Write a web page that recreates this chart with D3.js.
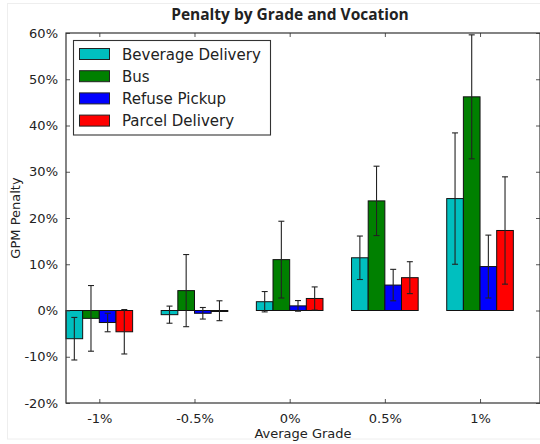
<!DOCTYPE html>
<html>
<head>
<meta charset="utf-8">
<script src="https://cdn.jsdelivr.net/npm/d3@7"></script>
<style>
  body { margin: 0; background: #fff; }
  text { font-family: "DejaVu Sans", sans-serif; fill: #222; }
</style>
</head>
<body>
<script>
// data (percent)
var grades = ["-1%", "-0.5%", "0%", "0.5%", "1%"];
var vocations = ["Beverage Delivery", "Bus", "Refuse Pickup", "Parcel Delivery"];
var colors = ["#00bfbf", "#008000", "#0000ff", "#ff0000"];

var beverage = [-6.1, -0.9, 1.9, 11.4, 24.2];
var bus      = [-1.7, 4.3, 11.0, 23.7, 46.2];
var refuse   = [-2.6, -0.6, 1.0, 5.5, 9.5];
var parcel   = [-4.6, -0.05, 2.6, 7.1, 17.3];

var beverageErr = [4.6, 1.85, 2.2, 4.7, 14.2];
var busErr      = [7.1, 7.8, 8.3, 7.5, 13.4];
var refuseErr   = [2.0, 1.25, 1.15, 3.4, 6.8];
var parcelErr   = [4.8, 2.15, 2.5, 3.45, 11.6];

var yTicks = [-20, -10, 0, 10, 20, 30, 40, 50, 60];

var values = [beverage, bus, refuse, parcel];
var errors = [beverageErr, busErr, refuseErr, parcelErr];

var width = 540, height = 444;
var plotLeft = 66, plotRight = 540, plotTop = 33, plotBottom = 403;

var svg = d3.select("body").append("svg")
    .attr("width", width)
    .attr("height", height);

// faint figure frame
svg.append("rect")
    .attr("x", 7.5).attr("y", 3.5)
    .attr("width", 540).attr("height", 435.5)
    .attr("fill", "none")
    .attr("stroke", "#eeeeee");

var x = d3.scaleLinear().domain([-0.35, 4.63]).range([plotLeft, plotRight]);
var y = d3.scaleLinear().domain([-20, 60]).range([plotBottom, plotTop]);
var barW = 0.175;

// bars
var g = svg.append("g");
vocations.forEach(function (v, s) {
    var rows = grades.map(function (gr, i) {
        return { i: i, v: values[s][i], e: errors[s][i] };
    });
    g.selectAll(".bar" + s)
        .data(rows)
        .enter()
        .append("rect")
        .attr("x", d => x(d.i - 2 * barW + s * barW))
        .attr("y", d => y(Math.max(0, d.v)))
        .attr("width", x(barW) - x(0))
        .attr("height", d => Math.max(1, Math.abs(y(d.v) - y(0))))
        .attr("fill", colors[s])
        .attr("stroke", "#111")
        .attr("stroke-width", 1);
});

// error bars
vocations.forEach(function (v, s) {
    grades.forEach(function (gr, i) {
        var cx = x(i - 2 * barW + s * barW + barW / 2);
        var lo = y(values[s][i] - errors[s][i]), hi = y(values[s][i] + errors[s][i]);
        g.append("line").attr("x1", cx).attr("x2", cx).attr("y1", lo).attr("y2", hi)
            .attr("stroke", "#222").attr("stroke-width", 1.1);
        [lo, hi].forEach(function (yy) {
            g.append("line").attr("x1", cx - 3).attr("x2", cx + 3).attr("y1", yy).attr("y2", yy)
                .attr("stroke", "#222").attr("stroke-width", 1.1);
        });
    });
});

// axes (matplotlib classic: ticks inside, on all sides)
var xTickVals = grades.map((d, i) => i);
svg.append("g")
    .attr("transform", "translate(0," + plotBottom + ")")
    .call(d3.axisBottom(x).tickValues(xTickVals).tickFormat(i => grades[i]).tickSizeInner(-4).tickSizeOuter(0).tickPadding(11))
    .call(a => a.select(".domain").remove());
svg.append("g")
    .attr("transform", "translate(0," + plotTop + ")")
    .call(d3.axisTop(x).tickValues(xTickVals).tickFormat("").tickSizeInner(-4).tickSizeOuter(0))
    .call(a => a.select(".domain").remove());
svg.append("g")
    .attr("transform", "translate(" + plotLeft + ",0)")
    .call(d3.axisLeft(y).tickValues(yTicks).tickFormat(d => d + "%").tickSizeInner(-4).tickSizeOuter(0).tickPadding(8))
    .call(a => a.select(".domain").remove());
svg.append("g")
    .attr("transform", "translate(" + plotRight + ",0)")
    .call(d3.axisRight(y).tickValues(yTicks).tickFormat("").tickSizeInner(-4).tickSizeOuter(0))
    .call(a => a.select(".domain").remove());

svg.selectAll(".tick text").style("font-size", "13px").attr("fill", "#333");
svg.selectAll(".tick line").attr("stroke", "#555");

// frame
svg.append("rect")
    .attr("x", plotLeft).attr("y", plotTop)
    .attr("width", plotRight - plotLeft).attr("height", plotBottom - plotTop)
    .attr("fill", "none")
    .attr("stroke", "#333")
    .attr("stroke-width", 1.2);

// title and labels
svg.append("text")
    .attr("x", 290).attr("y", 20)
    .attr("text-anchor", "middle")
    .style("font-family", "'Open Sans', sans-serif")
    .style("font-weight", "bold")
    .style("font-size", "15.5px")
    .attr("fill", "#111")
    .text("Penalty by Grade and Vocation");

svg.append("text")
    .attr("x", 303).attr("y", 438)
    .attr("text-anchor", "middle")
    .style("font-size", "13px")
    .text("Average Grade");

svg.append("text")
    .attr("transform", "translate(20,218) rotate(-90)")
    .attr("text-anchor", "middle")
    .style("font-size", "13px")
    .text("GPM Penalty");

// legend
var leg = svg.append("g");
leg.append("rect")
    .attr("x", 73.5).attr("y", 40.5)
    .attr("width", 197).attr("height", 94.5)
    .attr("fill", "#fff")
    .attr("stroke", "#333")
    .attr("stroke-width", 1.1);
vocations.forEach(function (v, s) {
    var yy = 54 + s * 22.2;
    leg.append("rect")
        .attr("x", 79.5).attr("y", yy - 5.5)
        .attr("width", 30).attr("height", 11)
        .attr("fill", colors[s])
        .attr("stroke", "#222");
    leg.append("text")
        .attr("x", 122).attr("y", yy + 5.5)
        .style("font-size", "15px")
        .text(v);
});
</script>
</body>
</html>
